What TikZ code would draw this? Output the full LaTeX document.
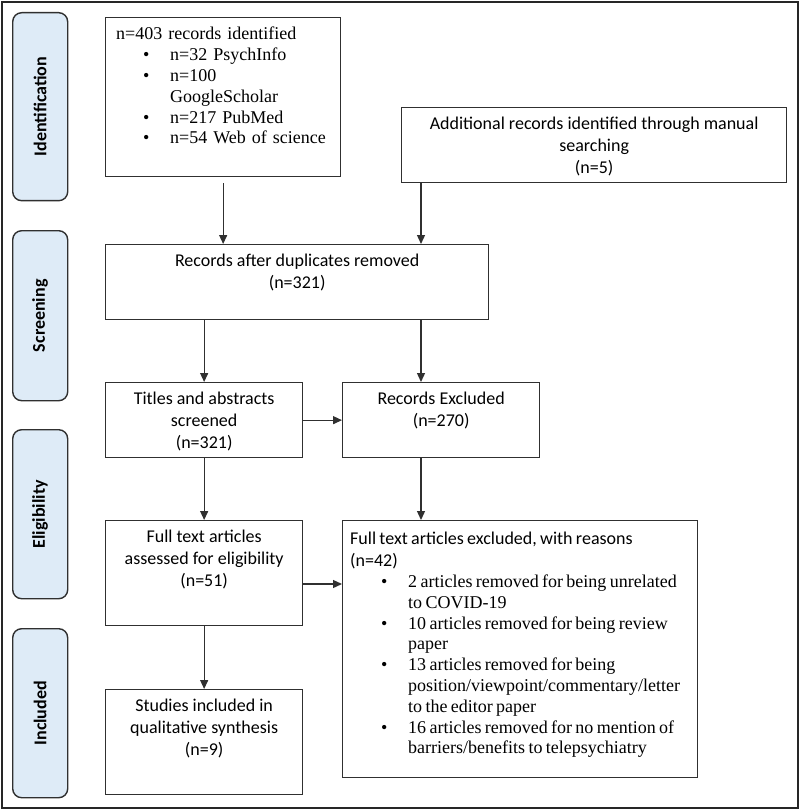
\documentclass[tikz,border=0pt]{standalone}
\usepackage{fontspec}
\setmainfont{Carlito}
\newfontfamily\serifbox{Liberation Serif}
\usetikzlibrary{arrows.meta, positioning}
\definecolor{stagefill}{HTML}{DEEBF7}
\definecolor{linegray}{HTML}{303030}
\newlength{\bulpos}\setlength{\bulpos}{27pt}
\newlength{\bulind}\setlength{\bulind}{54pt}
\newcommand{\bul}[1]{\par\hangindent=\bulind\hangafter=1\noindent\hspace*{\bulpos}\makebox[\dimexpr\bulind-\bulpos\relax][l]{\textbullet}#1}

\begin{document}
\begin{tikzpicture}[x=1pt,y=-1pt,>={Triangle[length=9pt,width=8pt]},draw=linegray]
    \tikzstyle{stage}=[draw=linegray, fill=stagefill, rounded corners=9pt, line width=1.4pt, anchor=north west, inner sep=0pt, minimum width=55pt, font=\fontsize{18}{20}\selectfont\bfseries]
    \tikzstyle{box}=[draw=linegray, fill=white, line width=1.3pt, anchor=north west, inner sep=0pt]
    \tikzstyle{txt}=[anchor=north, align=center, inner sep=0pt, font=\fontsize{18}{22}\selectfont]
    \tikzstyle{listtxt}=[anchor=north west, align=left, inner sep=0pt]
    \tikzstyle{arr}=[->, draw=linegray, line width=1.3pt]

    \useasboundingbox (0,0) rectangle (800,810);
    \draw[line width=2.2pt, black!85] (2,2) rectangle (798,808);

    % stages on the left
    \node[stage, minimum height=188pt] (s-ident) at (12,12) {\rotatebox{90}{Identification}};
    \node[stage, minimum height=170pt] (s-screen) at (12,230) {\rotatebox{90}{Screening}};
    \node[stage, minimum height=169pt] (s-elig) at (12,429) {\rotatebox{90}{Eligibility}};
    \node[stage, minimum height=169pt] (s-incl) at (12,628) {\rotatebox{90}{Included}};

    % the boxes
    \node[box, minimum width=235pt, minimum height=159pt] (ident) at (105,17) {};
    \node[box, minimum width=385pt, minimum height=75pt] (add) at (401,107) {};
    \node[box, minimum width=383pt, minimum height=75pt] (dup) at (105,244) {};
    \node[box, minimum width=197pt, minimum height=75pt] (title) at (105,382) {};
    \node[box, minimum width=197pt, minimum height=75pt] (excl) at (342,382) {};
    \node[box, minimum width=197pt, minimum height=105pt] (full) at (105,520) {};
    \node[box, minimum width=355pt, minimum height=257pt] (ftex) at (342,520) {};
    \node[box, minimum width=197pt, minimum height=105pt] (incl) at (105,689) {};

    % texts
    \node[listtxt, text width=228pt, font=\serifbox\fontsize{18}{20.8}\selectfont] (ident-t) at (116,27)
        {n=403 records identified
         \bul{n=32 PsychInfo}
         \bul{n=100\newline GoogleScholar}
         \bul{n=217 PubMed}
         \bul{n=54 Web of science}};
    \node[txt] (add-t) at ([yshift=-10pt]add.north) {Additional records identified through manual\\searching\\(n=5)};
    \node[txt] (dup-t) at ([yshift=-10pt]dup.north) {Records after duplicates removed\\(n=321)};
    \node[txt] (title-t) at ([yshift=-10pt]title.north) {Titles and abstracts\\screened\\(n=321)};
    \node[txt] (excl-t) at ([yshift=-10pt]excl.north) {Records Excluded\\(n=270)};
    \node[txt] (full-t) at ([yshift=-10pt]full.north) {Full text articles\\assessed for eligibility\\(n=51)};
    \node[txt] (incl-t) at ([yshift=-10pt]incl.north) {Studies included in\\qualitative synthesis\\(n=9)};
    \node[listtxt, text width=345pt] (ftex-t) at (350,532)
        {{\fontsize{18}{22}\selectfont Full text articles excluded, with reasons\\(n=42)\par}
         {\serifbox\fontsize{18}{20.8}\selectfont\setlength{\bulpos}{31pt}\setlength{\bulind}{58pt}
         \bul{2 articles removed for being unrelated\newline to COVID-19}
         \bul{10 articles removed for being review\newline paper}
         \bul{13 articles removed for being\newline position/viewpoint/commentary/letter\newline to the editor paper}
         \bul{16 articles removed for no mention of\newline barriers/benefits to telepsychiatry}\par}};

    % arrows
    \coordinate (right) at (421,0);
    \coordinate (midrow) at (0,584);
    \draw[arr, shorten <=6pt] (ident.south) -- (dup.north -| ident.south);
    \draw[arr] (add.south -| right) -- (dup.north -| right);
    \draw[arr] (dup.south -| title.north) -- (title.north);
    \draw[arr] (dup.south -| right) -- (excl.north -| right);
    \draw[arr] (title.east) -- (excl.west);
    \draw[arr] (excl.south -| right) -- (ftex.north -| right);
    \draw[arr] (title.south) -- (full.north);
    \draw[arr] (full.east |- midrow) -- (ftex.west |- midrow);
    \draw[arr] (full.south) -- (incl.north);
\end{tikzpicture}
\end{document}
